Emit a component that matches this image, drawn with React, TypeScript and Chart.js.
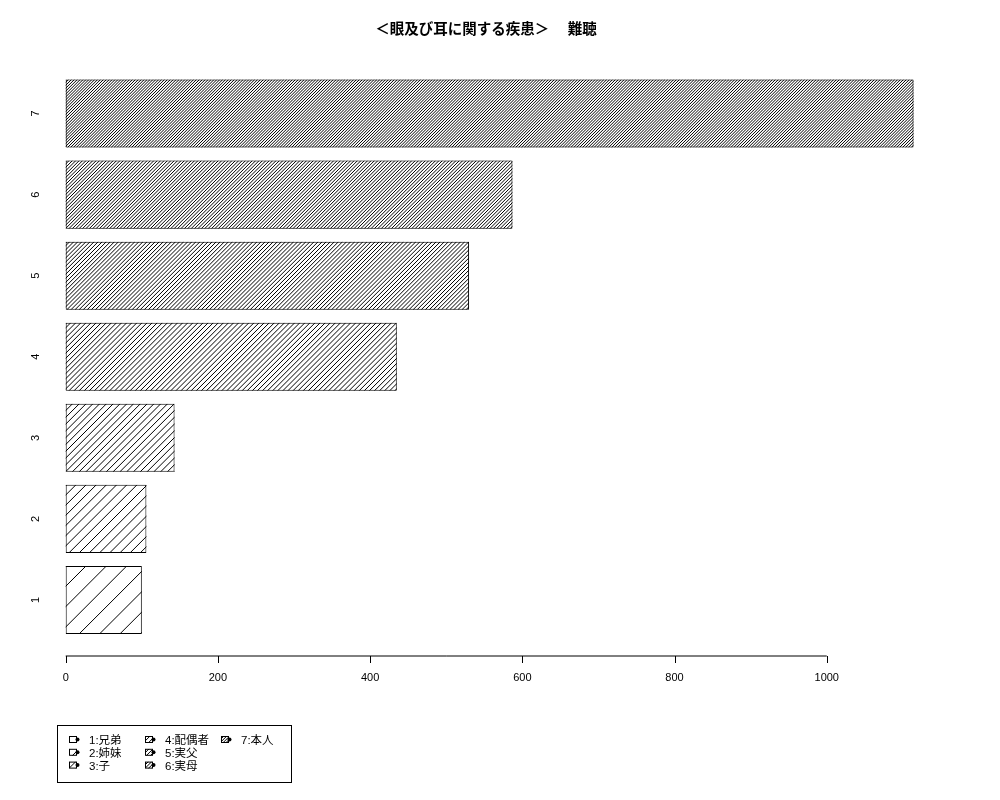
import React, { useEffect, useRef } from 'react';
import { Chart, registerables } from 'chart.js';

Chart.register(...registerables);

// data
const titleText = '＜眼及び耳に関する疾患＞　 難聴';
const categories = ['1', '2', '3', '4', '5', '6', '7'];
const values = [100, 106, 143, 435, 530, 587, 1114];
const densities = [5, 10, 15, 20, 25, 30, 35];
const legendLabels = ['1:兄弟', '2:姉妹', '3:子', '4:配偶者', '5:実父', '6:実母', '7:本人'];
const xTicks = [0, 200, 400, 600, 800, 1000];

const FONT = '"Liberation Sans", "Noto Sans CJK JP", sans-serif';

// diagonal hatching, like R's density/angle=45 fill
const drawHatch = (ctx: CanvasRenderingContext2D, left: number, top: number, right: number, bottom: number, density: number) => {
  const step = (72 / density) * Math.SQRT2;
  ctx.save();
  ctx.beginPath();
  ctx.rect(left, top, right - left, bottom - top);
  ctx.clip();
  ctx.beginPath();
  for (let c = left + top; c <= right + bottom + step; c += step) {
    ctx.moveTo(c - bottom, bottom);
    ctx.lineTo(c - top, top);
  }
  ctx.strokeStyle = '#000';
  ctx.lineWidth = 1;
  ctx.stroke();
  ctx.restore();
};

const decorPlugin = {
  id: 'decor',
  afterDatasetsDraw(chart: any) {
    const ctx = chart.ctx as CanvasRenderingContext2D;
    const meta = chart.getDatasetMeta(0);
    meta.data.forEach((bar: any, i: number) => {
      const { x, y, base, height } = bar.getProps(['x', 'y', 'base', 'height'], true);
      drawHatch(ctx, Math.min(base, x), y - height / 2, Math.max(base, x), y + height / 2, densities[i]);
    });
  },
  afterDraw(chart: any) {
    const ctx = chart.ctx as CanvasRenderingContext2D;
    const xs = chart.scales.x;
    const ys = chart.scales.y;
    const area = chart.chartArea;

    // title
    ctx.save();
    ctx.fillStyle = '#000';
    ctx.font = `bold 14.5px ${FONT}`;
    ctx.textAlign = 'center';
    ctx.textBaseline = 'middle';
    ctx.fillText(titleText, 486, 30);

    // x axis
    const axisY = area.bottom + 15.5;
    ctx.strokeStyle = '#000';
    ctx.lineWidth = 1;
    ctx.beginPath();
    ctx.moveTo(xs.getPixelForValue(xTicks[0]), axisY);
    ctx.lineTo(xs.getPixelForValue(xTicks[xTicks.length - 1]), axisY);
    xTicks.forEach(t => {
      const px = Math.round(xs.getPixelForValue(t)) + 0.5;
      ctx.moveTo(px, axisY);
      ctx.lineTo(px, axisY + 7);
    });
    ctx.stroke();
    ctx.font = `11px ${FONT}`;
    xTicks.forEach(t => {
      ctx.fillText(String(t), xs.getPixelForValue(t), axisY + 22);
    });

    // y labels, rotated like R's las=0
    categories.forEach((c, i) => {
      ctx.save();
      ctx.translate(36, ys.getPixelForTick(i));
      ctx.rotate(-Math.PI / 2);
      ctx.fillText(c, 0, 0);
      ctx.restore();
    });

    // legend
    ctx.strokeRect(57.5, 725.5, 234, 57);
    ctx.font = `11.5px ${FONT}`;
    ctx.textAlign = 'left';
    legendLabels.forEach((label, i) => {
      const col = Math.floor(i / 3);
      const row = i % 3;
      const bx = 69 + col * 76;
      const ry = 740 + row * 12.8;
      ctx.strokeRect(bx + 0.5, ry - 3.5, 7, 6);
      drawHatch(ctx, bx, ry - 4, bx + 8, ry + 3, densities[i]);
      ctx.beginPath();
      ctx.arc(bx + 8.5, ry - 0.5, 2, 0, Math.PI * 2);
      ctx.fill();
      ctx.fillText(label, bx + 20, ry + 1);
    });
    ctx.restore();
  }
};

const App: React.FC = () => {
  const canvasRef = useRef<HTMLCanvasElement>(null);

  useEffect(() => {
    document.body.style.margin = '0';
    if (!canvasRef.current) return;
    const chart = new Chart(canvasRef.current, {
      type: 'bar',
      data: {
        labels: categories,
        datasets: [{
          data: values,
          backgroundColor: '#fff',
          borderColor: '#000',
          borderWidth: 1,
          borderSkipped: false,
          barPercentage: 0.84,
          categoryPercentage: 1
        }]
      },
      options: {
        indexAxis: 'y',
        animation: false,
        responsive: true,
        maintainAspectRatio: false,
        layout: { padding: { left: 32, right: 53, top: 73, bottom: 159.5 } },
        plugins: {
          legend: { display: false },
          tooltip: { enabled: false }
        },
        scales: {
          x: { type: 'linear', display: false, min: -44.3, max: 1158 },
          y: { type: 'category', display: false, reverse: true }
        }
      },
      plugins: [decorPlugin]
    });
    return () => chart.destroy();
  }, []);

  return (
    <div style={{ width: 1000, height: 800, background: '#fff' }}>
      <canvas ref={canvasRef}></canvas>
    </div>
  );
};

export default App;
